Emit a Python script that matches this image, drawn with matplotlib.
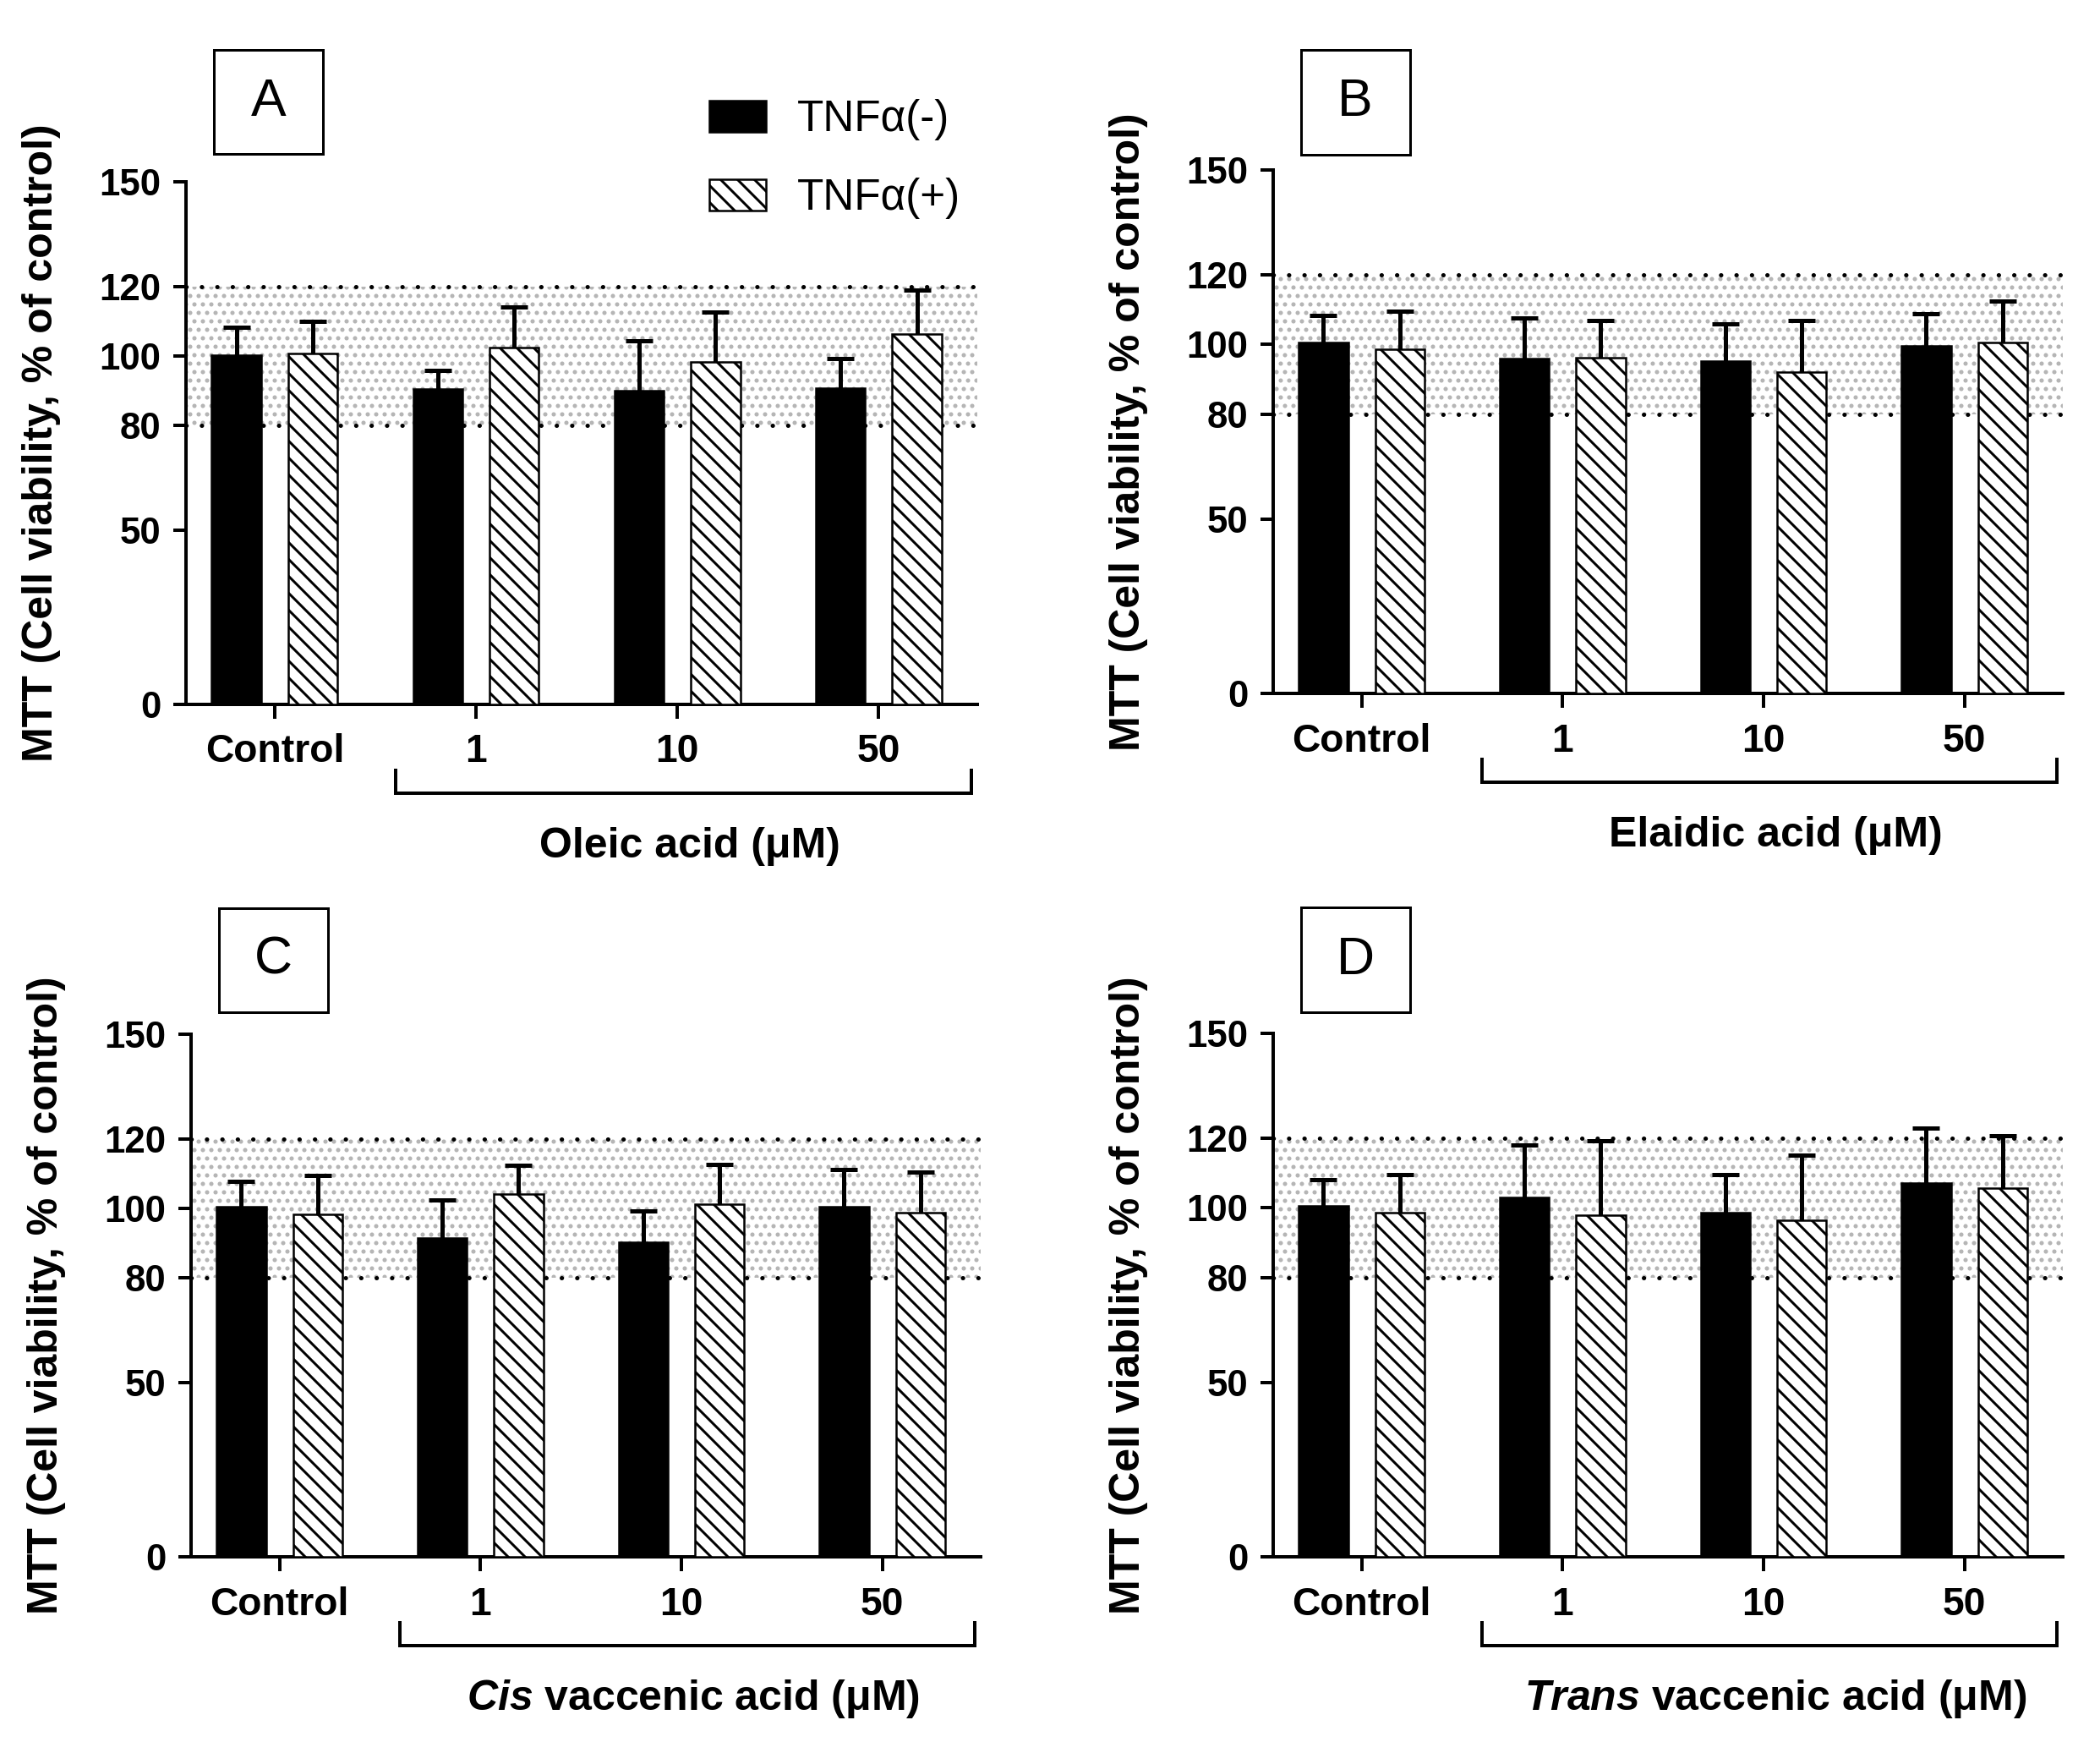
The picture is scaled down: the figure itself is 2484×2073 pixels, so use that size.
import numpy as np
import matplotlib
matplotlib.use("Agg")
import matplotlib.pyplot as plt
from matplotlib.patches import Rectangle
import matplotlib.transforms as mtransforms

plt.rcParams['font.family'] = ['Liberation Sans', 'DejaVu Sans']
plt.rcParams['mathtext.fontset'] = 'custom'
plt.rcParams['mathtext.it'] = 'Liberation Sans:italic:bold'
plt.rcParams['mathtext.rm'] = 'Liberation Sans:bold'
plt.rcParams['hatch.linewidth'] = 1.2

# ---- data ----
groups = ["Control", "1", "10", "50"]
y_ticks = [0, 50, 80, 100, 120, 150]

a_neg     = [100.2, 90.6, 90.1, 90.7]
a_neg_err = [8.1, 5.2, 14.3, 8.5]
a_pos     = [100.6, 102.3, 98.2, 106.3]
a_pos_err = [9.3, 11.7, 14.3, 12.7]

b_neg     = [100.5, 96.0, 95.3, 99.6]
b_neg_err = [7.8, 11.5, 10.6, 9.2]
b_pos     = [98.6, 96.3, 92.1, 100.5]
b_pos_err = [11.0, 10.6, 14.8, 11.9]

c_neg     = [100.5, 91.5, 90.4, 100.5]
c_neg_err = [7.4, 11.0, 8.8, 10.8]
c_pos     = [98.4, 104.2, 101.2, 98.9]
c_pos_err = [11.2, 8.3, 11.4, 11.6]

d_neg     = [100.5, 102.9, 98.6, 107.0]
d_neg_err = [7.6, 15.0, 11.0, 15.9]
d_pos     = [98.6, 97.8, 96.5, 105.7]
d_pos_err = [11.0, 21.4, 18.5, 15.1]

acids = ["Oleic acid (μM)", "Elaidic acid (μM)",
         r"$\it{Cis}$ vaccenic acid (μM)", r"$\it{Trans}$ vaccenic acid (μM)"]
letters = ["A", "B", "C", "D"]
band = (80, 120)

panels = [
    (a_neg, a_neg_err, a_pos, a_pos_err),
    (b_neg, b_neg_err, b_pos, b_pos_err),
    (c_neg, c_neg_err, c_pos, c_pos_err),
    (d_neg, d_neg_err, d_pos, d_pos_err),
]

# axes rectangles in figure fraction
positions = [
    [0.0886, 0.5982, 0.3768, 0.2981],
    [0.6063, 0.6044, 0.3760, 0.2986],
    [0.0910, 0.1119, 0.3760, 0.2981],
    [0.6063, 0.1119, 0.3760, 0.2986],
]
box_bottoms = [1.053, 1.030, 1.042, 1.040]

fig = plt.figure(figsize=(2484 / 180, 2073 / 180), dpi=180)

x = np.arange(len(groups))
off, w = 0.19, 0.245
legend_handles = None

for i, (neg, neg_err, pos, pos_err) in enumerate(panels):
    ax = fig.add_axes(positions[i])

    # reference band 80-120: light dotted fill with dotted borders
    ax.axhspan(band[0], band[1], facecolor='none', edgecolor='#b4b4b4',
               hatch='...', lw=0, zorder=0)
    for yb in band:
        ax.axhline(yb, color='k', lw=2.0, ls=(0, (0.05, 3.6)),
                   dash_capstyle='round', zorder=1)

    for vals, errs, dx in [(neg, neg_err, -off), (pos, pos_err, off)]:
        eb = ax.errorbar(x + dx, vals, yerr=[np.zeros(len(vals)), errs],
                         fmt='none', ecolor='k', elinewidth=2.0,
                         capsize=6.4, capthick=2.0, zorder=2)
        eb[1][0].set_visible(False)

    b1 = ax.bar(x - off, neg, w, color='k', edgecolor='k', lw=1.0, zorder=3,
                label='TNFα(-)')
    b2 = ax.bar(x + off, pos, w, color='white', edgecolor='k', lw=1.0,
                hatch='\\\\\\', zorder=3, label='TNFα(+)')
    if legend_handles is None:
        legend_handles = [b1, b2]

    ax.set_xlim(-0.44, 3.49)
    ax.set_ylim(0, 150)
    ax.set_yticks(y_ticks)
    ax.set_xticks(x)
    ax.set_xticklabels(groups)
    for s in ['top', 'right']:
        ax.spines[s].set_visible(False)
    for s in ['left', 'bottom']:
        ax.spines[s].set_linewidth(1.6)
    ax.tick_params(axis='y', length=6, width=1.6, pad=6, labelsize=17.5)
    ax.tick_params(axis='x', length=6.8, width=1.6, pad=7, labelsize=18.5)
    for lab in ax.get_xticklabels() + ax.get_yticklabels():
        lab.set_fontweight('bold')

    ax.set_ylabel("MTT (Cell viability, % of control)", fontsize=20,
                  fontweight='bold')
    ax.yaxis.set_label_coords(-0.158, 0.5)

    # bracket under the concentrations
    tr = mtransforms.blended_transform_factory(ax.transData, ax.transAxes)
    ax.plot([0.60, 0.60, 3.46, 3.46], [-0.126, -0.170, -0.170, -0.126],
            color='k', lw=1.6, transform=tr, clip_on=False,
            solid_joinstyle='miter')
    ax.text(2.06, -0.272, acids[i], transform=tr, ha='center', va='center',
            fontsize=20, fontweight='bold')

    # panel letter in a box
    bb = box_bottoms[i]
    ax.add_patch(Rectangle((0.035, bb), 0.138, 0.200, transform=ax.transAxes,
                           fill=False, lw=1.2, edgecolor='k', clip_on=False))
    ax.text(0.104, bb + 0.100, letters[i], transform=ax.transAxes,
            ha='center', va='center', fontsize=25)

fig.legend(handles=legend_handles, loc='upper left',
           bbox_to_anchor=(0.3378, 0.9435), frameon=False, fontsize=20.5,
           handlelength=1.3, handleheight=0.74, handletextpad=0.72,
           labelspacing=0.86, borderpad=0, borderaxespad=0)

fig.savefig("out.png", dpi=180)
